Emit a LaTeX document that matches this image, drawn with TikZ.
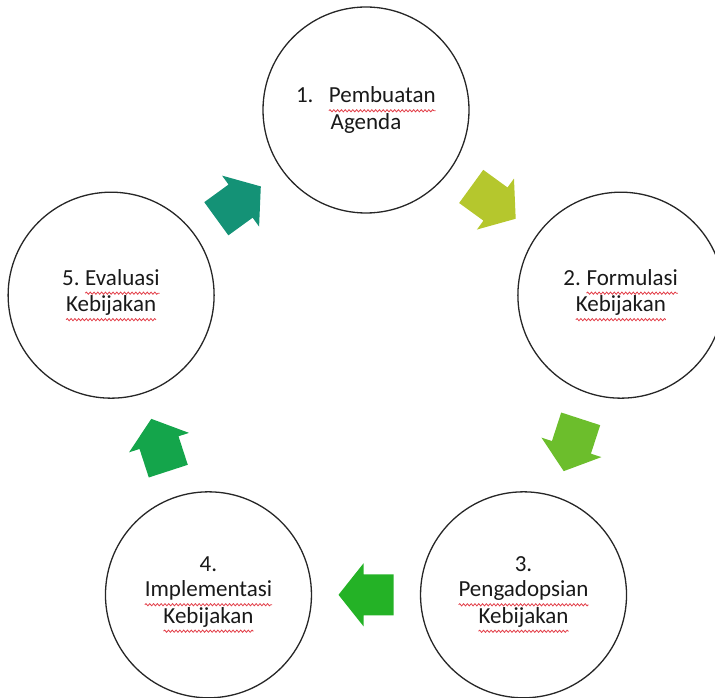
\documentclass[tikz,border=0pt]{standalone}
\usepackage{fontspec}
\setmainfont{Carlito}
\usetikzlibrary{calc,decorations.pathmorphing}

\definecolor{salahred}{RGB}{226,62,72}
\definecolor{panahA}{RGB}{181,199,45}
\definecolor{panahB}{RGB}{108,190,44}
\definecolor{panahC}{RGB}{36,178,38}
\definecolor{panahD}{RGB}{20,165,75}
\definecolor{panahE}{RGB}{20,146,118}

% red wavy underline, like a spell checker
\newcommand\salah[1]{\tikz[baseline=(kata.base)]{%
  \node[shape=rectangle, draw=none, fill=none, inner sep=0pt, outer sep=0pt,
    minimum size=0pt] (kata) {#1};
  \draw[salahred, line width=0.8pt, decorate,
    decoration={snake, amplitude=1.1pt, segment length=3.8pt}]
    ([yshift=-8pt]kata.base west) -- ([yshift=-8pt]kata.base east);}}

\tikzset{
  tahap/.style={circle, draw=black!85, line width=1.3pt, minimum size=206pt,
    inner sep=0pt, align=center, text=black!90,
    font=\fontsize{23}{25}\selectfont\frenchspacing},
  pics/panah/.style={code={
    \fill[#1] (-27.5,-20.5) -- (2.5,-20.5) -- (2.5,-31.5) -- (27.5,0)
      -- (2.5,31.5) -- (2.5,20.5) -- (-27.5,20.5) -- cycle;
  }}
}

\begin{document}
\begin{tikzpicture}[x=1pt, y=1pt]
\useasboundingbox (0,0) rectangle (715,697);
\coordinate (pusat) at (366,319);

\node[tahap] (agenda) at ($(pusat)+(90:268pt)$) {1.\hspace{15pt}\salah{Pembuatan}\\Agenda};
\node[tahap] (formulasi) at ($(pusat)+(18:268pt)$) {2. \salah{Formulasi}\\\salah{Kebijakan}};
\node[tahap] (adopsi) at ($(pusat)+(-54:268pt)$) {3.\\\salah{Pengadopsian}\\\salah{Kebijakan}};
\node[tahap] (implementasi) at ($(pusat)+(-126:268pt)$) {4.\\\salah{Implementasi}\\\salah{Kebijakan}};
\node[tahap] (evaluasi) at ($(pusat)+(162:268pt)$) {5. \salah{Evaluasi}\\\salah{Kebijakan}};

\pic[rotate=-36] at ($(agenda)!0.5!(formulasi)$) {panah=panahA};
\pic[rotate=-108] at ($(formulasi)!0.5!(adopsi)$) {panah=panahB};
\pic[rotate=180] at ($(adopsi)!0.5!(implementasi)$) {panah=panahC};
\pic[rotate=108] at ($(implementasi)!0.5!(evaluasi)$) {panah=panahD};
\pic[rotate=36] at ($(evaluasi)!0.5!(agenda)$) {panah=panahE};
\end{tikzpicture}
\end{document}
